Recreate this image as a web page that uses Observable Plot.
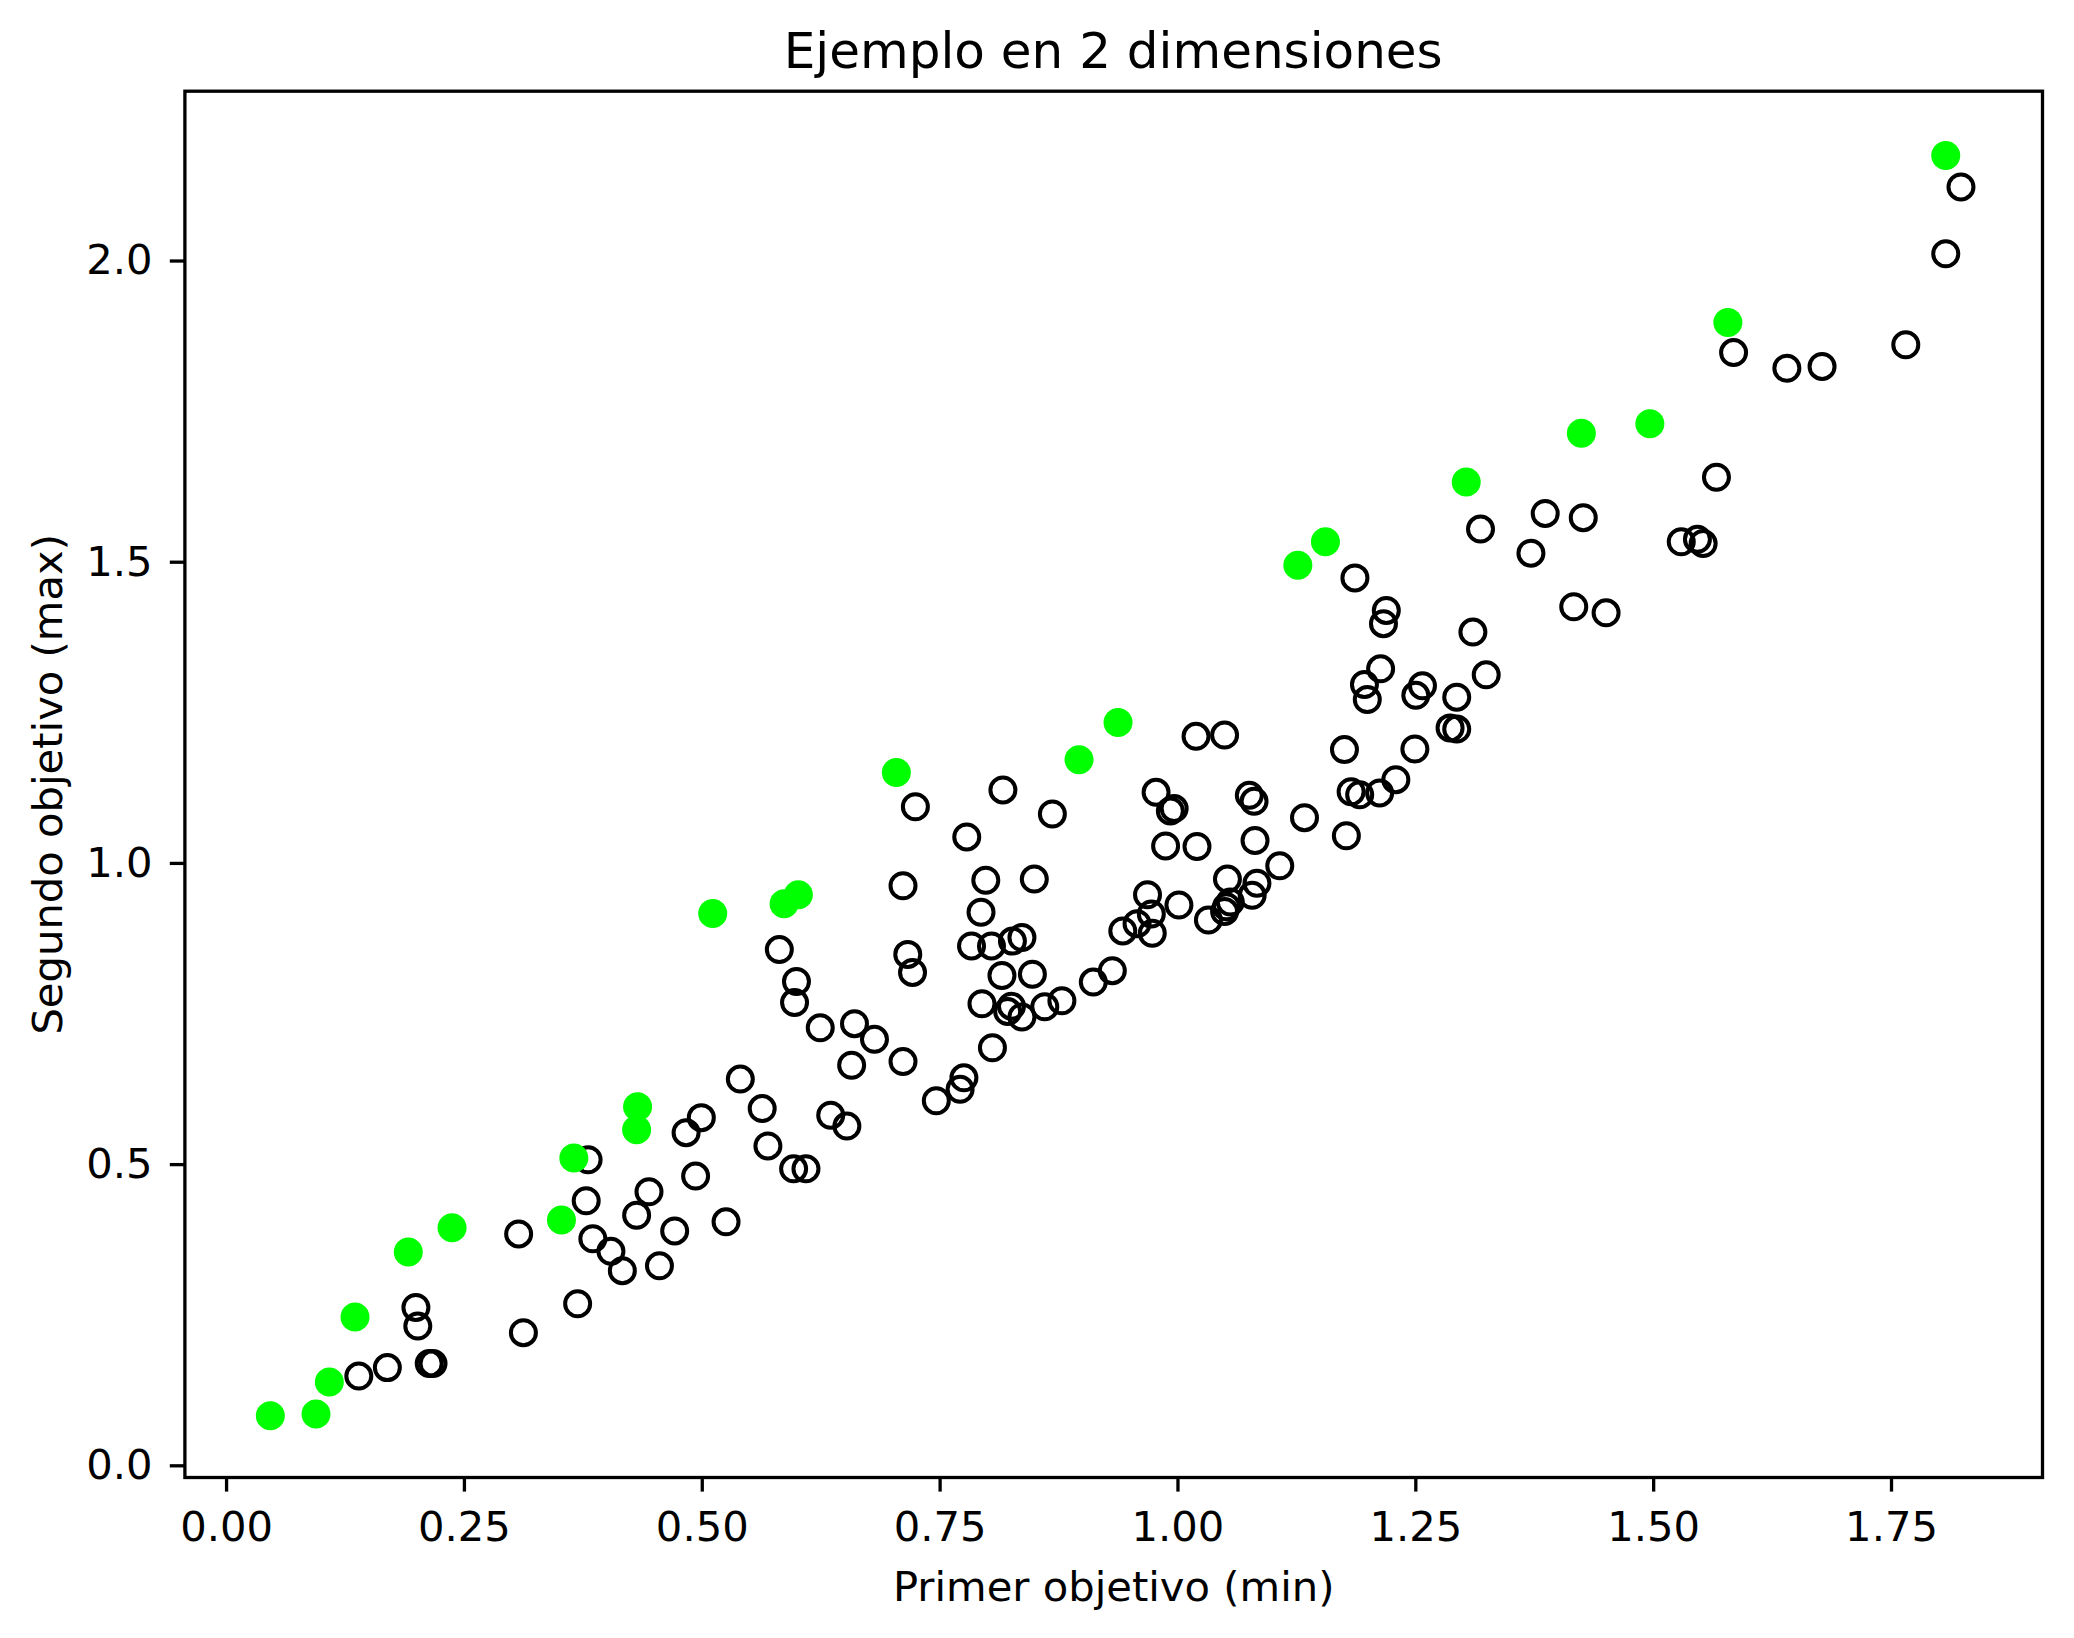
<!DOCTYPE html>
<html>
<head>
<meta charset="utf-8">
<script src="https://cdn.jsdelivr.net/npm/d3@7"></script>
<script src="https://cdn.jsdelivr.net/npm/@observablehq/plot@0.6"></script>
<style>
  html, body { margin: 0; padding: 0; background: white; }
  #title {
    box-sizing: border-box; width: 2074px; height: 80px;
    padding: 22px 32px 0 184.4px;
    font-family: "DejaVu Sans"; font-size: 50px; line-height: 58px;
    text-align: center; white-space: nowrap; color: black;
  }
  #chart svg { display: block; }
</style>
</head>
<body>
<div id="title">Ejemplo en 2 dimensiones</div>
<div id="chart"></div>
<script>
const titleText = "Ejemplo en 2 dimensiones";
const xLabel = "Primer objetivo (min)";
const yLabel = "Segundo objetivo (max)";
const xTicks = [0, 0.25, 0.5, 0.75, 1.0, 1.25, 1.5, 1.75];
const yTicks = [0, 0.5, 1.0, 1.5, 2.0];

// Highlighted (green, filled) points
const greenX = [0.046, 0.094, 0.108, 0.135, 0.191, 0.237, 0.352, 0.365, 0.431, 0.432, 0.511, 0.586, 0.601, 0.704, 0.896, 0.937, 1.126, 1.155, 1.303, 1.424, 1.496, 1.578, 1.807];
const greenY = [0.083, 0.086, 0.139, 0.247, 0.355, 0.395, 0.408, 0.511, 0.558, 0.596, 0.917, 0.933, 0.948, 1.151, 1.172, 1.234, 1.495, 1.534, 1.633, 1.714, 1.730, 1.898, 2.175];

// Other (open, black) points
const openX = [0.139, 0.169, 0.213, 0.217, 0.199, 0.201, 0.307, 0.312, 0.369, 0.380, 0.378, 0.385, 0.404, 0.416, 0.444, 0.431, 0.471, 0.455, 0.493, 0.483, 0.499, 0.525, 0.540,
  0.581, 0.599, 0.597, 0.624, 0.660, 0.681, 0.657, 0.711, 0.563, 0.569, 0.635, 0.652, 0.596, 0.609, 0.724, 0.711, 0.716, 0.721, 0.778, 0.816, 0.868, 0.798, 0.849, 0.793, 0.783, 0.804, 0.826, 0.836, 0.815, 0.847, 0.794, 0.821, 0.825, 0.836, 0.860, 0.878, 0.805, 0.775, 0.771, 0.746, 0.911, 0.931, 0.942, 0.957, 0.973, 0.968, 0.972, 1.001, 0.977, 0.992, 0.996, 0.987, 1.020, 1.032,
  1.186, 1.219, 1.216, 1.310, 1.416, 1.450, 1.213, 1.196, 1.199, 1.257, 1.250, 1.293, 1.324, 1.286, 1.293, 1.019, 1.049, 1.175, 1.249, 1.229, 1.212, 1.182, 1.191, 1.177, 1.133, 1.075, 1.080, 1.081, 1.107, 1.052, 1.083, 1.078, 1.049, 1.051, 1.055,
  1.823, 1.807, 1.584, 1.640, 1.677, 1.765, 1.566, 1.318, 1.386, 1.426, 1.371, 1.529, 1.546, 1.552];
const openY = [0.149, 0.163, 0.170, 0.170, 0.263, 0.232, 0.385, 0.221, 0.269, 0.508, 0.440, 0.377, 0.356, 0.324, 0.455, 0.416, 0.390, 0.332, 0.481, 0.553, 0.578, 0.405, 0.642,
  0.857, 0.804, 0.769, 0.727, 0.734, 0.708, 0.665, 0.671, 0.593, 0.531, 0.582, 0.564, 0.493, 0.493, 1.094, 0.963, 0.849, 0.819, 1.044, 1.122, 1.082, 0.972, 0.974, 0.919, 0.863, 0.863, 0.871, 0.877, 0.814, 0.816, 0.767, 0.754, 0.763, 0.745, 0.762, 0.772, 0.694, 0.644, 0.625, 0.606, 0.803, 0.822, 0.888, 0.900, 0.884, 0.948, 0.916, 0.931, 1.118, 1.087, 1.091, 1.029, 1.028, 0.906,
  1.474, 1.420, 1.398, 1.384, 1.426, 1.416, 1.323, 1.297, 1.272, 1.295, 1.279, 1.276, 1.313, 1.225, 1.223, 1.211, 1.213, 1.189, 1.190, 1.139, 1.117, 1.119, 1.114, 1.046, 1.076, 1.113, 1.103, 1.038, 0.996, 0.974, 0.967, 0.947, 0.920, 0.928, 0.936,
  2.123, 2.012, 1.848, 1.822, 1.825, 1.861, 1.641, 1.555, 1.581, 1.574, 1.515, 1.534, 1.538, 1.531];

const greenPts = greenX.map((x, i) => ({x, y: greenY[i]}));
const openPts = openX.map((x, i) => ({x, y: openY[i]}));

document.getElementById("title").textContent = titleText;

const chart = Plot.plot({
  width: 2074,
  height: 1558,
  marginTop: 10.7,
  marginBottom: 161,
  marginLeft: 184.4,
  marginRight: 32,
  x: {domain: [-0.0438, 1.9087]},
  y: {domain: [-0.0194, 2.2819]},
  style: {fontFamily: "DejaVu Sans", fontSize: "41.7px", color: "black", background: "white", overflow: "visible"},
  marks: [
    Plot.axisX({ticks: xTicks, tickFormat: d3.format(".2f"), tickSize: 14.6, tickPadding: 18.8, strokeWidth: 3.3, label: null, fontSize: 41.7, fill: "black", stroke: "black"}),
    Plot.axisY({ticks: yTicks, tickFormat: d3.format(".1f"), tickSize: 14.6, tickPadding: 17.8, strokeWidth: 3.3, label: null, fontSize: 41.7, fill: "black", stroke: "black"}),
    Plot.dot(openPts, {x: "x", y: "y", r: 12.5, stroke: "black", strokeWidth: 4, fill: "none"}),
    Plot.dot(greenPts, {x: "x", y: "y", r: 14.5, fill: "#00ff00", stroke: "none"}),
    Plot.frame({stroke: "black", strokeWidth: 3.3}),
    Plot.text([xLabel], {text: d => d, frameAnchor: "bottom", textAnchor: "middle", dy: 93.4, lineAnchor: "top", fontSize: 41.7, fill: "black"}),
    Plot.text([yLabel], {text: d => d, frameAnchor: "left", textAnchor: "middle", rotate: -90, dx: -136.1, lineAnchor: "middle", fontSize: 41.7, fill: "black"})
  ]
});
document.getElementById("chart").appendChild(chart);
</script>
</body>
</html>
